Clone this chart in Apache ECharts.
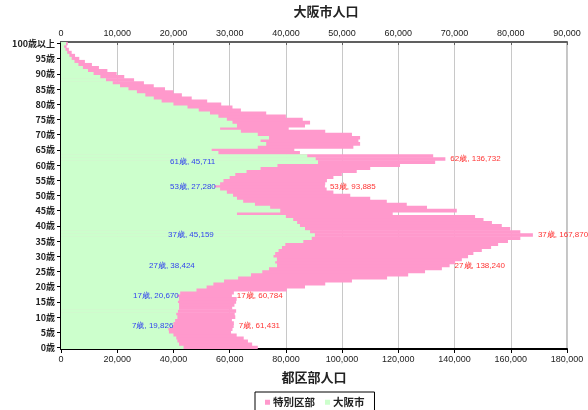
<!DOCTYPE html>
<html>
<head>
<meta charset="utf-8">
<script src="https://cdn.jsdelivr.net/npm/echarts@6/dist/echarts.min.js"></script>
<style>
  html, body { margin: 0; padding: 0; background: #fff; }
  #chart { width: 588px; height: 410px; }
</style>
</head>
<body>
<div id="chart"></div>
<script>
// Age categories 0歳 … 99歳, 100歳以上
const ageCategories = [];
for (let a = 0; a < 100; a++) ageCategories.push(a + '歳');
ageCategories.push('100歳以上');

// 特別区部 (Tokyo special wards) population by age, 0 … 100+
const wardsPop = [
  70000, 68000, 66500, 65000, 62500, 60500, 61000, 61431, 61500, 60800,
  62000, 61800, 62300, 60900, 61700, 62300, 62500, 60784, 61500, 80300,
  86800, 94000, 103500, 116000, 123500, 129500, 135500, 138240, 140200, 142600,
  144800, 146700, 149700, 153000, 155500, 159000, 163400, 167870, 163400, 159800,
  156800, 153300, 150300, 147300, 118000, 140800, 130200, 123000, 115900, 110000,
  102900, 96900, 94500, 93885, 94000, 94600, 96900, 99900, 105200, 110000,
  120600, 133100, 136732, 132400, 85000, 83000, 104000, 106400, 105800, 106400,
  103500, 94000, 81000, 86800, 88600, 86000, 80000, 73000, 64000, 61000,
  57000, 52000, 46500, 43000, 40000, 37000, 33000, 29500, 26000, 22500,
  19800, 16500, 13500, 11000, 8500, 6500, 5000, 3800, 2800, 2000,
  2400
];

// 大阪市 (Osaka city) population by age, 0 … 100+
const osakaPop = [
  21800, 21000, 20700, 20500, 20000, 19200, 19100, 19826, 20000, 20300,
  20700, 20500, 20800, 21000, 21000, 20800, 21000, 20670, 21200, 24100,
  25900, 27100, 29000, 31500, 33800, 35800, 37000, 38424, 38100, 38400,
  37800, 38100, 38700, 39300, 39900, 43100, 44600, 45159, 44300, 43400,
  42500, 42000, 41300, 40000, 31300, 39000, 37200, 34500, 32400, 31300,
  30600, 29500, 28300, 27280, 28300, 28900, 30000, 31000, 33000, 35500,
  38500, 45711, 45300, 43800, 28000, 26800, 35000, 36500, 35500, 37000,
  35000, 32000, 28300, 31300, 30500, 29500, 28000, 26500, 24500, 22500,
  20000, 17900, 16500, 15000, 13500, 12000, 10500, 9200, 8000, 7000,
  5800, 4800, 3900, 3100, 2400, 1900, 1500, 1100, 800, 550,
  900
];

// Ages that carry a value label, per series
const wardsLabelAges = [7, 17, 27, 37, 53, 62];
const osakaLabelAges = [7, 17, 27, 37, 53, 61];
// Horizontal offset (px from the bar base) of each Osaka label
const osakaLabelOffset = { 7: 71, 17: 72, 27: 88, 37: 107, 53: 109, 61: 109 };

function comma(n) {
  return String(n).replace(/\B(?=(\d{3})+(?!\d))/g, ',');
}

const wardsData = wardsPop.map((v, i) => {
  if (wardsLabelAges.indexOf(i) < 0) return v;
  return {
    value: v,
    label: {
      show: true, position: 'right', distance: 5,
      color: '#ff3333', fontSize: 8,
      formatter: () => i + '歳, ' + comma(v)
    }
  };
});

const osakaData = osakaPop.map((v, i) => {
  if (osakaLabelAges.indexOf(i) < 0) return v;
  return {
    value: v,
    label: {
      show: true, position: [osakaLabelOffset[i], '50%'],
      align: 'left', verticalAlign: 'middle',
      color: '#3344ee', fontSize: 8,
      formatter: () => i + '歳, ' + comma(v)
    }
  };
});

const chart = echarts.init(document.getElementById('chart'), null, { renderer: 'canvas' });

const tickFont = { fontSize: 9, color: '#222', fontFamily: 'Liberation Sans, Arial, sans-serif' };
const jpFont = 'Noto Sans CJK JP';

chart.setOption({
  animation: false,
  backgroundColor: '#ffffff',
  grid: {
    left: 61, right: 21, top: 42, bottom: 61,
    show: true, borderColor: '#8a8a8a', borderWidth: 1, backgroundColor: 'transparent'
  },
  legend: {
    data: ['特別区部', '大阪市'],
    top: 392,
    left: 255,
    itemWidth: 5, itemHeight: 5, itemGap: 10,
    icon: 'rect',
    borderColor: '#000', borderWidth: 1,
    padding: [5, 10, 8, 10],
    textStyle: { fontSize: 10.5, fontWeight: 'bold', color: '#222', fontFamily: jpFont, padding: [0, 0, 0, -2] }
  },
  xAxis: [
    {
      type: 'value', position: 'bottom',
      min: 0, max: 180000, interval: 20000,
      name: '都区部人口', nameLocation: 'middle', nameGap: 22,
      nameTextStyle: { fontSize: 13, fontWeight: 'bold', color: '#222', fontFamily: jpFont },
      axisLine: { show: true, lineStyle: { color: '#000', width: 2 } },
      axisTick: { show: true, length: 4, lineStyle: { color: '#000' } },
      axisLabel: Object.assign({ formatter: v => comma(v), margin: 6 }, tickFont),
      splitLine: { show: true, lineStyle: { color: '#c8c8c8', width: 1 } }
    },
    {
      type: 'value', position: 'top',
      min: 0, max: 90000, interval: 10000,
      name: '大阪市人口', nameLocation: 'middle', nameGap: 24,
      nameTextStyle: { fontSize: 13, fontWeight: 'bold', color: '#222', fontFamily: jpFont, padding: [0, 0, 0, 24] },
      axisLine: { show: true, lineStyle: { color: '#606060', width: 2 } },
      axisTick: { show: true, inside: true, length: 3, lineStyle: { color: '#606060' } },
      axisLabel: Object.assign({ formatter: v => comma(v), margin: 4 }, tickFont),
      splitLine: { show: false }
    }
  ],
  yAxis: {
    type: 'category',
    data: ageCategories,
    axisLine: { show: true, lineStyle: { color: '#000', width: 2 } },
    axisTick: { show: true, length: 4, interval: (i) => i % 5 === 0, alignWithLabel: true, lineStyle: { color: '#000' } },
    axisLabel: { interval: (i) => i % 5 === 0, margin: 6, fontWeight: 'bold', fontSize: 9, color: '#222', fontFamily: jpFont },
    splitLine: { show: false }
  },
  series: [
    {
      name: '特別区部', type: 'bar', xAxisIndex: 0,
      data: wardsData,
      barWidth: 3.7, barGap: '-100%',
      itemStyle: { color: '#ff99cc' },
      z: 2
    },
    {
      name: '大阪市', type: 'bar', xAxisIndex: 1,
      data: osakaData,
      barWidth: 3.7, barGap: '-100%',
      itemStyle: { color: '#ccffcc' },
      z: 3
    }
  ]
});
</script>
</body>
</html>
